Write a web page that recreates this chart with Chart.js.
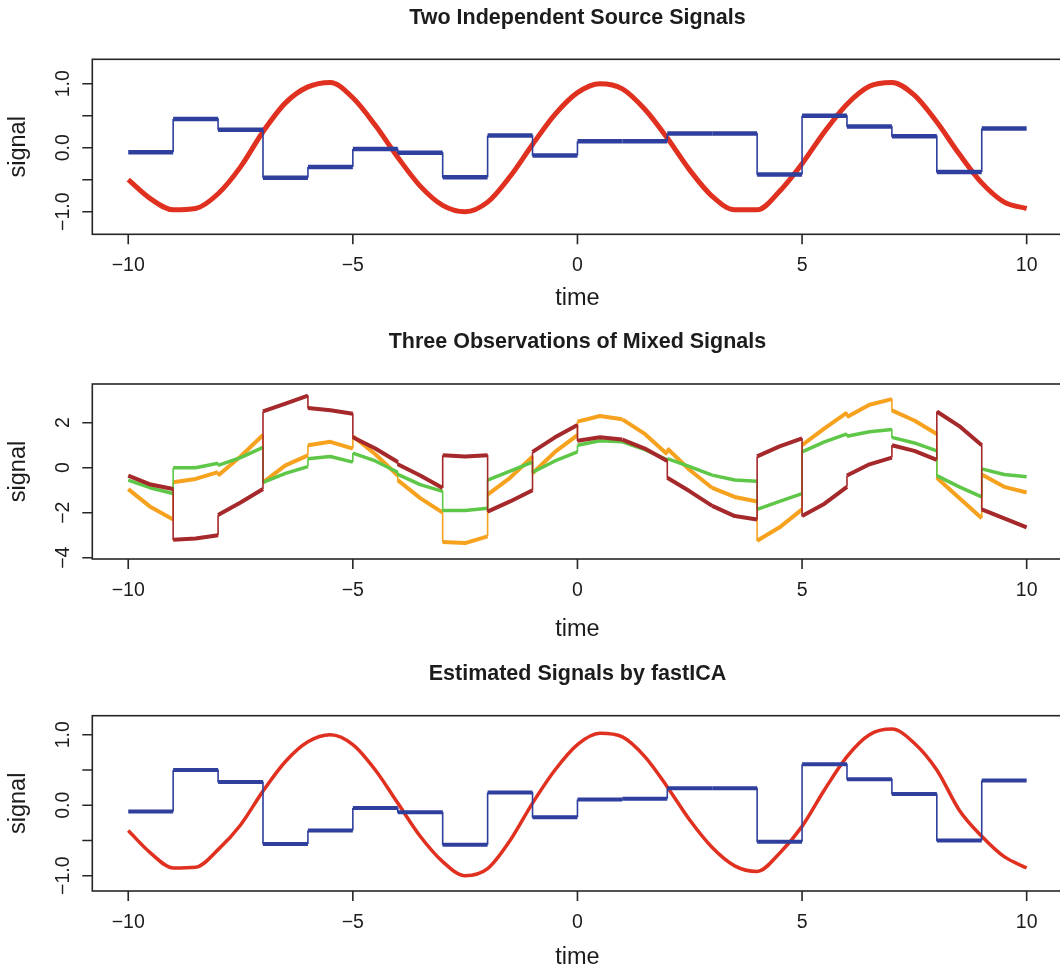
<!DOCTYPE html>
<html>
<head>
<meta charset="utf-8">
<script src="https://cdn.jsdelivr.net/npm/chart.js@4.4.0/dist/chart.umd.min.js"></script>
<style>
    html, body { margin: 0; padding: 0; background: #ffffff; overflow: hidden; }
    #fig { position: relative; width: 1060px; height: 970px; overflow: hidden; }
    #fig canvas { position: absolute; left: 0; }
</style>
</head>
<body>
<div id="fig">
    <canvas id="sourceChart" width="1080" height="320" style="top:0px"></canvas>
    <canvas id="mixedChart" width="1080" height="330" style="top:320px"></canvas>
    <canvas id="icaChart" width="1080" height="320" style="top:650px"></canvas>
</div>
<script>
// ===== Data =====

// x axis
const xTickValues = [-10, -5, 0, 5, 10];
const xTickLabels = ['\u221210', '\u22125', '0', '5', '10'];

// y axis ticks
const unitYTicks = [-1, -0.5, 0, 0.5, 1];
const unitYLabels = ['\u22121.0', '', '0.0', '', '1.0'];
const mixYTicks = [-4, -2, 0, 2];
const mixYLabels = ['\u22124', '\u22122', '0', '2'];

// sample times for the smooth (sine-like) signals
const sampleTimes = [
    -10, -9.5, -9, -8.5, -8, -7.5, -7, -6.5, -6, -5.5, -5, -4.5, -4, -3.5, -3, -2.5, -2, -1.5, -1, -0.5,
    0, 0.5, 1, 1.5, 2, 2.5, 3, 3.5, 4, 4.5, 5, 5.5, 6, 6.5, 7, 7.5, 8, 8.5, 9, 9.5, 10
];

// start of each unit interval for the step-like signals
const stepStarts = [-10, -9, -8, -7, -6, -5, -4, -3, -2, -1, 0, 1, 2, 3, 4, 5, 6, 7, 8, 9];

// panel 1: sources
const sourceSine = [
    -0.5, -0.8, -0.97, -0.95, -0.72, -0.3, 0.25, 0.7, 0.95, 1.02, 0.78, 0.35, -0.15, -0.6, -0.9, -1.0, -0.85, -0.45, 0.05, 0.52,
    0.86, 1.0, 0.92, 0.6, 0.15, -0.35, -0.76, -0.97, -0.97, -0.68, -0.25, 0.25, 0.68, 0.96, 1.02, 0.82, 0.4, -0.1, -0.55, -0.85, -0.95
];
const sourceSteps = [
    -0.07, 0.45, 0.28, -0.47, -0.3, -0.02, -0.08, -0.46, 0.19, -0.12,
    0.1, 0.1, 0.22, 0.22, -0.42, 0.5, 0.33, 0.18, -0.38, 0.3
];

// panel 2: mixed observations, [start, middle, end] of each unit interval
const mixOrange = [
    [-0.95, -1.75, -2.3], [-0.65, -0.5, -0.2], [-0.35, 0.5, 1.45], [-0.65, 0.1, 0.55], [1.0, 1.15, 0.85],
    [1.4, 0.6, -0.35], [-0.55, -1.35, -2.0], [-3.3, -3.35, -3.05], [-1.2, -0.45, 0.5], [-0.25, 0.7, 1.45],
    [2.05, 2.3, 2.15], [2.15, 1.5, 0.6], [0.85, -0.1, -0.9], [-0.9, -1.3, -1.5], [-3.25, -2.65, -1.85],
    [1.0, 1.75, 2.45], [2.25, 2.8, 3.05], [2.55, 2.1, 1.5], [-0.45, -1.35, -2.25], [-0.3, -0.85, -1.1]
];
const mixGreen = [
    [-0.55, -0.9, -1.15], [0.0, 0.0, 0.2], [0.1, 0.45, 0.9], [-0.65, -0.25, 0.05], [0.4, 0.5, 0.25],
    [0.65, 0.3, -0.2], [-0.3, -0.75, -1.05], [-1.9, -1.9, -1.8], [-0.55, -0.15, 0.25], [-0.2, 0.3, 0.7],
    [1.0, 1.2, 1.15], [1.15, 0.8, 0.35], [0.4, 0.05, -0.33], [-0.33, -0.55, -0.6], [-1.85, -1.5, -1.15],
    [0.7, 1.15, 1.5], [1.4, 1.6, 1.7], [1.35, 1.1, 0.75], [-0.35, -0.85, -1.3], [-0.05, -0.3, -0.4]
];
const mixBrown = [
    [-0.35, -0.75, -0.95], [-3.2, -3.15, -3.0], [-2.1, -1.55, -0.95], [2.5, 2.85, 3.2], [2.65, 2.55, 2.4],
    [1.35, 0.85, 0.25], [0.15, -0.35, -0.9], [0.55, 0.5, 0.55], [-1.95, -1.5, -1.0], [0.7, 1.35, 1.9],
    [1.2, 1.35, 1.25], [1.25, 0.85, 0.3], [-0.45, -1.05, -1.7], [-1.7, -2.15, -2.3], [0.5, 0.95, 1.3],
    [-2.15, -1.6, -0.85], [-0.35, 0.15, 0.45], [1.0, 0.75, 0.35], [2.5, 1.85, 1.0], [-1.85, -2.25, -2.65]
];

// panel 3: fastICA estimates
const icaSine = [
    -0.36, -0.68, -0.89, -0.88, -0.63, -0.28, 0.2, 0.62, 0.9, 1.0, 0.86, 0.5, 0.03, -0.44, -0.8, -1.0, -0.9, -0.5, 0.03, 0.5,
    0.86, 1.02, 0.97, 0.69, 0.26, -0.21, -0.6, -0.86, -0.94, -0.68, -0.3, 0.22, 0.69, 1.0, 1.08, 0.88, 0.5, -0.07, -0.44, -0.73, -0.89
];
const icaSteps = [
    -0.09, 0.5, 0.33, -0.55, -0.36, -0.04, -0.1, -0.56, 0.18, -0.17,
    0.08, 0.09, 0.24, 0.24, -0.52, 0.58, 0.37, 0.16, -0.5, 0.35
];

// ===== helpers =====
const FONT = '"Liberation Sans", Arial, Helvetica, sans-serif';
const INK = '#1c1c1c';

const RED = '#e0301f';
const BLUE = '#2e3f9e';
const ORANGE = '#f7a21f';
const GREEN = '#5ec747';
const BROWN = '#a5282a';

function sinePoints(values) {
    return sampleTimes.map((t, i) => ({ x: t, y: values[i] }));
}

function stepPoints(levels) {
    const pts = [];
    stepStarts.forEach((t0, i) => {
        pts.push({ x: t0, y: levels[i] }, { x: t0 + 1, y: levels[i] });
    });
    return pts;
}

function piecePoints(triples) {
    const pts = [];
    stepStarts.forEach((t0, i) => {
        const [a, b, c] = triples[i];
        pts.push({ x: t0, y: a }, { x: t0 + 0.5, y: b }, { x: t0 + 1, y: c });
    });
    return pts;
}

// noisy traces are drawn as thick bands, but the jumps between levels stay thin
function thinJumps(width) {
    return {
        borderWidth: ctx => (ctx.p0.parsed.x === ctx.p1.parsed.x ? 1.6 : width)
    };
}

// R-style frame: box, outward ticks, rotated y labels, titles
const rFrame = {
    id: 'rFrame',
    afterDraw(chart, args, opts) {
        const { ctx, chartArea: a } = chart;
        const x = chart.scales.x;
        const y = chart.scales.y;
        ctx.save();
        ctx.strokeStyle = '#262626';
        ctx.lineWidth = 1.6;
        ctx.strokeRect(a.left, a.top, a.right - a.left, a.bottom - a.top);

        ctx.beginPath();
        xTickValues.forEach(v => {
            const px = x.getPixelForValue(v);
            ctx.moveTo(px, a.bottom);
            ctx.lineTo(px, a.bottom + 10);
        });
        opts.yTicks.forEach(v => {
            const py = y.getPixelForValue(v);
            ctx.moveTo(a.left, py);
            ctx.lineTo(a.left - 10, py);
        });
        ctx.stroke();

        ctx.fillStyle = INK;
        ctx.textAlign = 'center';
        ctx.textBaseline = 'middle';

        ctx.font = '19.5px ' + FONT;
        xTickValues.forEach((v, i) => {
            ctx.fillText(xTickLabels[i], x.getPixelForValue(v), a.bottom + 31.5);
        });
        opts.yTicks.forEach((v, i) => {
            if (!opts.yLabels[i]) return;
            ctx.save();
            ctx.translate(63.3, y.getPixelForValue(v));
            ctx.rotate(-Math.PI / 2);
            ctx.fillText(opts.yLabels[i], 0, 0);
            ctx.restore();
        });

        ctx.font = '23.5px ' + FONT;
        ctx.fillText('time', (a.left + a.right) / 2, a.bottom + opts.xTitleGap);
        ctx.save();
        ctx.translate(18.5, (a.top + a.bottom) / 2);
        ctx.rotate(-Math.PI / 2);
        ctx.fillText('signal', 0, 0);
        ctx.restore();

        ctx.font = 'bold 21.5px ' + FONT;
        ctx.fillText(opts.title, (a.left + a.right) / 2, a.top - 41.5);
        ctx.restore();
    }
};

function makePanel(id, datasets, yMin, yMax, padTop, padBottom, frame) {
    return new Chart(document.getElementById(id), {
        type: 'line',
        data: { datasets: datasets },
        options: {
            responsive: false,
            animation: false,
            events: [],
            layout: { padding: { left: 92.3, right: 17.4, top: padTop, bottom: padBottom } },
            elements: { point: { radius: 0 }, line: { borderJoinStyle: 'round' } },
            scales: {
                x: { type: 'linear', min: -10.8, max: 10.8, display: false },
                y: { type: 'linear', min: yMin, max: yMax, display: false }
            },
            plugins: {
                legend: { display: false },
                tooltip: { enabled: false },
                rFrame: frame
            }
        },
        plugins: [rFrame]
    });
}

// ===== Panel 1: Two Independent Source Signals =====
makePanel('sourceChart', [
    { data: stepPoints(sourceSteps), borderColor: BLUE, borderWidth: 4.5, segment: thinJumps(4.5), tension: 0 },
    { data: sinePoints(sourceSine), borderColor: RED, borderWidth: 5, cubicInterpolationMode: 'monotone' }
], -1.353, 1.381, 59.3, 85.7, {
    title: 'Two Independent Source Signals', yTicks: unitYTicks, yLabels: unitYLabels, xTitleGap: 64
});

// ===== Panel 2: Three Observations of Mixed Signals =====
makePanel('mixedChart', [
    { data: piecePoints(mixBrown), borderColor: BROWN, borderWidth: 4, segment: thinJumps(4), tension: 0 },
    { data: piecePoints(mixGreen), borderColor: GREEN, borderWidth: 3.5, segment: thinJumps(3.5), tension: 0 },
    { data: piecePoints(mixOrange), borderColor: ORANGE, borderWidth: 4, segment: thinJumps(4), tension: 0 }
], -4.058, 3.72, 64, 91, {
    title: 'Three Observations of Mixed Signals', yTicks: mixYTicks, yLabels: mixYLabels, xTitleGap: 71
});

// ===== Panel 3: Estimated Signals by fastICA =====
makePanel('icaChart', [
    { data: stepPoints(icaSteps), borderColor: BLUE, borderWidth: 4, segment: thinJumps(4), tension: 0 },
    { data: sinePoints(icaSine), borderColor: RED, borderWidth: 3.5, cubicInterpolationMode: 'monotone' }
], -1.217, 1.27, 65.7, 79, {
    title: 'Estimated Signals by fastICA', yTicks: unitYTicks, yLabels: unitYLabels, xTitleGap: 67
});
</script>
</body>
</html>
